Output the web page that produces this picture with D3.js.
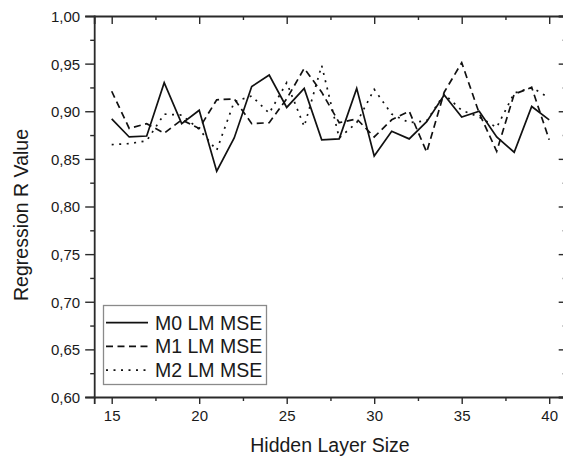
<!DOCTYPE html>
<html>
<head>
<meta charset="utf-8">
<script src="https://cdn.jsdelivr.net/npm/d3@7"></script>
<style>
  html, body { margin: 0; padding: 0; background: #fff; }
  svg { display: block; }
  text { font-family: "Liberation Sans", Arial, sans-serif; fill: #1a1a1a; }
</style>
</head>
<body>
<svg id="chart" width="563" height="459"></svg>
<script>
// Hidden layer sizes (x) and regression R values for each model
const hiddenSizes = [15,16,17,18,19,20,21,22,23,24,25,26,27,28,29,30,31,32,33,34,35,36,37,38,39,40];
const m0Values = [0.892,0.873,0.874,0.930,0.887,0.901,0.837,0.872,0.926,0.938,0.904,0.924,0.870,0.871,0.924,0.853,0.879,0.871,0.889,0.917,0.894,0.900,0.873,0.857,0.905,0.891];
const m1Values = [0.921,0.882,0.887,0.877,0.891,0.882,0.912,0.913,0.887,0.888,0.913,0.945,0.920,0.888,0.892,0.873,0.891,0.900,0.857,0.920,0.951,0.898,0.858,0.918,0.925,0.870];
const m2Values = [0.865,0.866,0.869,0.897,0.896,0.881,0.859,0.910,0.916,0.898,0.930,0.884,0.948,0.872,0.888,0.923,0.897,0.888,0.890,0.918,0.901,0.894,0.883,0.919,0.925,0.914];
const seriesNames = ["M0 LM MSE", "M1 LM MSE", "M2 LM MSE"];
const xTickValues = [15,20,25,30,35,40];
const xMinorTicks = [17.5,22.5,27.5,32.5,37.5];
const yTickValues = [0.60,0.65,0.70,0.75,0.80,0.85,0.90,0.95,1.00];
const yMinorTicks = [0.625,0.675,0.725,0.775,0.825,0.875,0.925,0.975];

(function () {
  const series = [
    { name: seriesNames[0], values: m0Values, dash: null },
    { name: seriesNames[1], values: m1Values, dash: "7,4.5" },
    { name: seriesNames[2], values: m2Values, dash: "2,5.5" }
  ];

  const svg = d3.select("#chart");
  const plotLeft = 94.2, plotRight = 566.7, plotTop = 16, plotBottom = 397;

  const x = d3.scaleLinear().domain([14, 41]).range([plotLeft, plotRight]);
  const y = d3.scaleLinear().domain([0.60, 1.00]).range([plotBottom, plotTop]);
  const fmt = d3.format(".2f");
  const commaFmt = v => fmt(v).replace(".", ",");
  const axisColor = "#2a2a2a";

  // Bottom axis (outward ticks, labelled)
  const gx = svg.append("g").attr("transform", `translate(0,${plotBottom})`)
    .call(d3.axisBottom(x).tickValues(xTickValues).tickSize(7).tickPadding(6).tickFormat(d3.format("d")));
  gx.append("g").attr("class", "minor").call(d3.axisBottom(x).tickValues(xMinorTicks).tickSize(4).tickFormat(""));

  // Left axis (outward ticks, labelled)
  const gy = svg.append("g").attr("transform", `translate(${plotLeft},0)`)
    .call(d3.axisLeft(y).tickValues(yTickValues).tickSize(9).tickPadding(5).tickFormat(commaFmt));
  gy.append("g").attr("class", "minor").call(d3.axisLeft(y).tickValues(yMinorTicks).tickSize(4).tickFormat(""));

  // Top axis (inward ticks, no labels)
  const gt = svg.append("g").attr("transform", `translate(0,${plotTop})`)
    .call(d3.axisBottom(x).tickValues(xTickValues).tickSize(8).tickFormat(""));
  gt.append("g").attr("class", "minor").call(d3.axisBottom(x).tickValues(xMinorTicks).tickSize(4).tickFormat(""));

  // Right axis (inward ticks, no labels)
  const gr = svg.append("g").attr("transform", `translate(${plotRight},0)`)
    .call(d3.axisLeft(y).tickValues(yTickValues).tickSize(8).tickFormat(""));
  gr.append("g").attr("class", "minor").call(d3.axisLeft(y).tickValues(yMinorTicks).tickSize(4).tickFormat(""));

  [gx, gy, gt, gr].forEach(g => {
    g.selectAll(".minor .domain").remove();
    g.selectAll(".domain").attr("stroke", axisColor).attr("stroke-width", 1.8);
    g.selectAll(".tick line").attr("stroke", axisColor).attr("stroke-width", 1.4);
    g.selectAll(".tick text").style("font-size", "15px").attr("fill", "#1a1a1a")
      .style("font-family", '"Liberation Sans", Arial, sans-serif');
  });
  gy.selectAll(".tick text").attr("dy", "0.36em");

  // Series lines
  const line = d3.line()
    .x((d, i) => x(hiddenSizes[i]))
    .y(d => y(d));

  series.forEach(s => {
    svg.append("path")
      .datum(s.values)
      .attr("fill", "none")
      .attr("stroke", "#111")
      .attr("stroke-width", 1.7)
      .attr("stroke-linejoin", "miter")
      .attr("stroke-dasharray", s.dash)
      .attr("d", line);
  });

  // Axis titles
  svg.append("text")
    .attr("x", (plotLeft + plotRight) / 2 - 0.5)
    .attr("y", 452)
    .attr("text-anchor", "middle")
    .style("font-size", "19.5px")
    .text("Hidden Layer Size");

  svg.append("text")
    .attr("transform", "translate(28,215) rotate(-90)")
    .attr("text-anchor", "middle")
    .style("font-size", "19.5px")
    .text("Regression R Value");

  // Legend
  const legend = svg.append("g");
  legend.append("rect")
    .attr("x", 103.5).attr("y", 305.5)
    .attr("width", 163).attr("height", 79)
    .attr("fill", "#fff")
    .attr("stroke", "#8a8a8a")
    .attr("stroke-width", 1.3);

  series.forEach((s, i) => {
    const cy = 322.7 + i * 23.7;
    legend.append("line")
      .attr("x1", 106).attr("x2", 148)
      .attr("y1", cy).attr("y2", cy)
      .attr("stroke", "#111")
      .attr("stroke-width", 1.7)
      .attr("stroke-dasharray", s.dash);
    legend.append("text")
      .attr("x", 155)
      .attr("y", cy + 7)
      .style("font-size", "19.5px")
      .text(s.name);
  });
})();
</script>
</body>
</html>
